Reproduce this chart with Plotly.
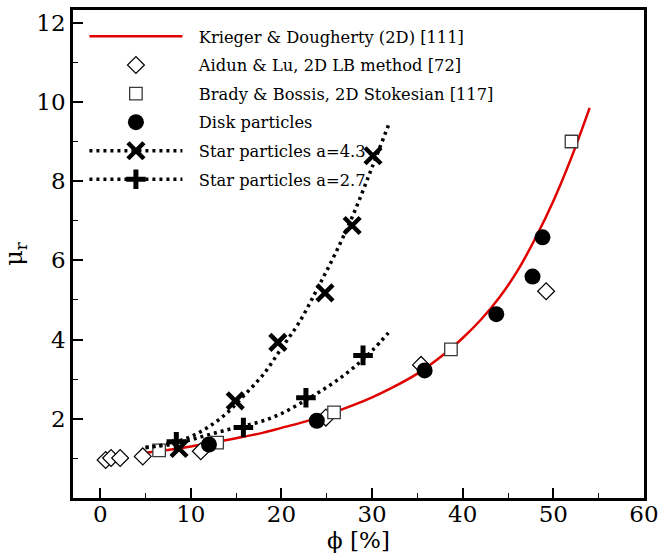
import plotly.graph_objects as go

# Krieger & Dougherty (2D) curve, sampled
kd_phi = [5, 8, 10, 12, 15, 18, 20, 22, 25, 28, 30, 32, 35, 38, 40, 42, 44, 46, 48, 50, 52, 54]
kd_mu = [1.14, 1.23, 1.30, 1.38, 1.51, 1.65, 1.77, 1.89, 2.10, 2.35, 2.54, 2.76, 3.14, 3.64,
         4.04, 4.50, 5.05, 5.72, 6.55, 7.50, 8.60, 9.85]

# Aidun & Lu, 2D LB method
al_phi = [0.6, 1.2, 2.2, 4.7, 11.1, 24.9, 35.4, 49.2]
al_mu = [0.96, 1.01, 1.01, 1.05, 1.18, 2.03, 3.36, 5.22]

# Brady & Bossis, 2D Stokesian
bb_phi = [6.5, 12.9, 25.8, 38.7, 52.0]
bb_mu = [1.20, 1.40, 2.16, 3.75, 9.00]

# Disk particles
disk_phi = [12.0, 23.9, 35.8, 43.7, 47.7, 48.8]
disk_mu = [1.35, 1.95, 3.22, 4.64, 5.59, 6.58]

# Star particles a=4.3: points and fitted curve
s43_phi = [8.7, 14.9, 19.6, 24.8, 27.8, 30.1]
s43_mu = [1.25, 2.45, 3.93, 5.18, 6.88, 8.64]
s43_fit_phi = [5, 6, 8, 10, 12, 14, 16, 18, 20, 22, 24, 26, 28, 30, 31.8]
s43_fit_mu = [1.27, 1.30, 1.40, 1.55, 1.80, 2.15, 2.62, 3.12, 3.78, 4.45, 5.30, 6.20, 7.20, 8.35, 9.41]

# Star particles a=2.7: points and fitted curve
s27_phi = [8.4, 15.8, 22.7, 29.0]
s27_mu = [1.42, 1.78, 2.53, 3.60]
s27_fit_phi = [5, 8, 10, 12, 14, 16, 18, 20, 22, 24, 26, 28, 30, 31.8]
s27_fit_mu = [1.28, 1.36, 1.47, 1.60, 1.72, 1.83, 1.95, 2.13, 2.38, 2.65, 2.95, 3.30, 3.72, 4.17]

x_ticks = [0, 10, 20, 30, 40, 50, 60]
y_ticks = [2, 4, 6, 8, 10, 12]

FONT = "DejaVu Serif"
DOT = "3px,4px"
GAP = "\u2002\u2009"  # small lead-in space between legend symbol and label

fig = go.Figure()

fig.add_trace(go.Scatter(
    x=kd_phi, y=kd_mu, mode="lines", line=dict(color="#e00000", width=2.5, shape="spline"),
    name=GAP + "Krieger & Dougherty (2D) [111]", legendgroup="kd"))
fig.add_trace(go.Scatter(
    x=al_phi, y=al_mu, mode="markers", name=GAP + "Aidun & Lu, 2D LB method [72]", legendgroup="al",
    marker=dict(symbol="diamond", size=13, color="white", line=dict(color="black", width=1.2))))
fig.add_trace(go.Scatter(
    x=bb_phi, y=bb_mu, mode="markers", name=GAP + "Brady & Bossis, 2D Stokesian [117]", legendgroup="bb",
    marker=dict(symbol="square", size=12.5, color="white", line=dict(color="#3a3a3a", width=1.3))))
fig.add_trace(go.Scatter(
    x=disk_phi, y=disk_mu, mode="markers", name=GAP + "Disk particles", legendgroup="disk",
    marker=dict(symbol="circle", size=16, color="black")))

# fitted dotted curves
fig.add_trace(go.Scatter(
    x=s43_fit_phi, y=s43_fit_mu, mode="lines", showlegend=False, legendgroup="s43",
    line=dict(color="black", width=3.5, dash=DOT, shape="spline")))
fig.add_trace(go.Scatter(
    x=s27_fit_phi, y=s27_fit_mu, mode="lines", showlegend=False, legendgroup="s27",
    line=dict(color="black", width=3.5, dash=DOT, shape="spline")))

# star particle markers
fig.add_trace(go.Scatter(
    x=s43_phi, y=s43_mu, mode="markers", showlegend=False, legendgroup="s43",
    marker=dict(symbol="x-thin", size=16, line=dict(color="black", width=4.5))))
fig.add_trace(go.Scatter(
    x=s27_phi, y=s27_mu, mode="markers", showlegend=False, legendgroup="s27",
    marker=dict(symbol="cross-thin", size=14, line=dict(color="black", width=5))))

# legend entries combining dotted line and marker
fig.add_trace(go.Scatter(
    x=[None], y=[None], mode="lines+markers", name=GAP + "Star particles a=4.3", legendgroup="s43",
    line=dict(color="black", width=3.5, dash=DOT),
    marker=dict(symbol="x-thin", size=16, line=dict(color="black", width=4.5))))
fig.add_trace(go.Scatter(
    x=[None], y=[None], mode="lines+markers", name=GAP + "Star particles a=2.7", legendgroup="s27",
    line=dict(color="black", width=3.5, dash=DOT),
    marker=dict(symbol="cross-thin", size=14, line=dict(color="black", width=5))))

axis_common = dict(
    showline=True, linecolor="black", linewidth=2.5, mirror=True,
    ticks="inside", ticklen=10, tickwidth=2, tickcolor="black",
    showgrid=False, zeroline=False, ticklabeloverflow="allow",
    tickfont=dict(family=FONT, size=23, color="black"),
)

fig.update_xaxes(
    range=[-3, 60], tickvals=x_ticks, ticklabelstandoff=-6,
    minor=dict(ticks="inside", ticklen=5, tickwidth=1.2, tickcolor="black", dtick=5, tick0=0),
    title=dict(text="ϕ [%]", font=dict(family=FONT, size=23, color="black"), standoff=0),
    **axis_common)
fig.update_yaxes(
    range=[0, 12.32], tickvals=y_ticks,
    minor=dict(ticks="inside", ticklen=5, tickwidth=1.2, tickcolor="black", dtick=1, tick0=0),
    title=dict(text="μ<sub>r</sub>", font=dict(family=FONT, size=24, color="black"), standoff=10),
    **axis_common)

fig.update_layout(
    width=666, height=560,
    margin=dict(l=73, r=14, t=7, b=62),
    plot_bgcolor="white", paper_bgcolor="white",
    font=dict(family=FONT, color="black"),
    legend=dict(
        x=0.02, y=0.981, xanchor="left", yanchor="top",
        bgcolor="rgba(0,0,0,0)", borderwidth=0,
        font=dict(family=FONT, size=16.3, color="black"),
        itemwidth=93, tracegroupgap=4.4,
    ),
)

fig.write_html("out.html")
